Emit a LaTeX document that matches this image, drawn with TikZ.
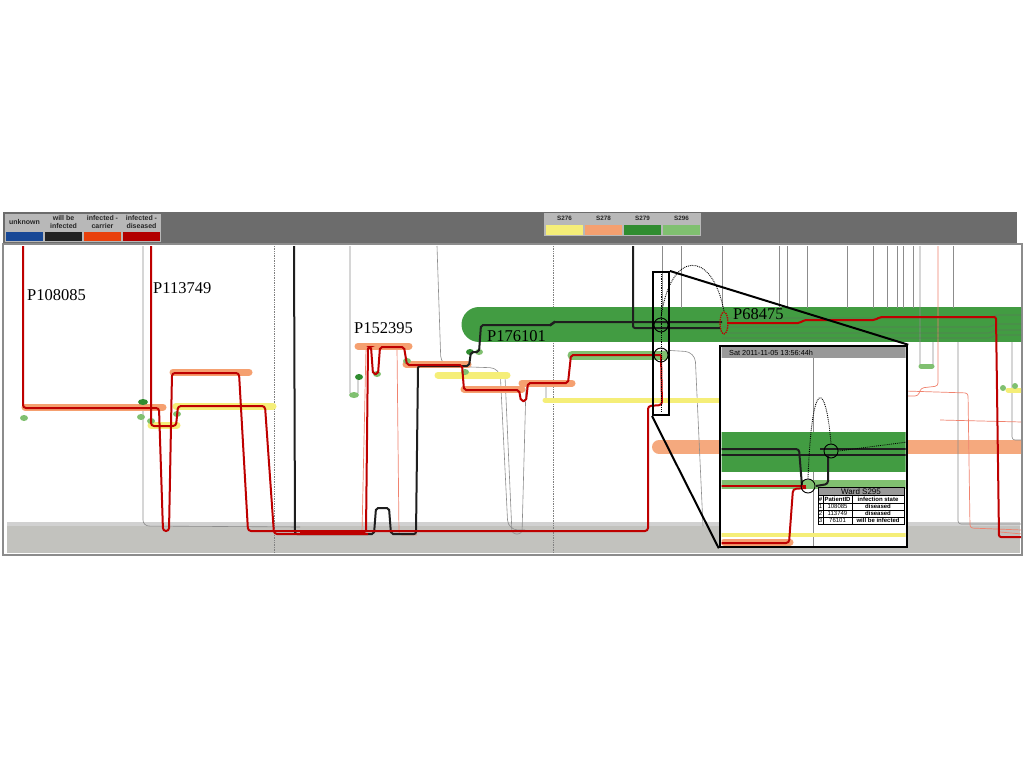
\documentclass[tikz,border=0pt]{standalone}
\usepackage{fontspec}
\setmainfont{Liberation Serif}
\newfontfamily\uifont{Liberation Sans}
\usetikzlibrary{calc,shapes.geometric}
\definecolor{barGray}{RGB}{108,108,108}
\definecolor{boxGray}{RGB}{184,184,184}
\definecolor{stUnknown}{RGB}{24,72,150}
\definecolor{stWill}{RGB}{34,34,34}
\definecolor{stCarrier}{RGB}{232,64,12}
\definecolor{stDiseased}{RGB}{178,0,0}
\definecolor{wYellow}{RGB}{245,238,120}
\definecolor{wSalmon}{RGB}{245,160,112}
\definecolor{wGreen}{RGB}{48,140,48}
\definecolor{wLight}{RGB}{128,192,112}
\definecolor{bandGreen}{RGB}{66,156,66}
\definecolor{floorGray}{RGB}{194,194,190}
\definecolor{pathRed}{RGB}{190,0,0}
\definecolor{pathBlack}{RGB}{30,30,30}
\definecolor{thinPink}{RGB}{240,130,110}
\tikzset{redpath/.style={draw=pathRed,line width=2pt,rounded corners=2pt},
         blackpath/.style={draw=pathBlack,line width=2pt,rounded corners=2pt},
         trace/.style={draw=black!45,line width=.6pt,rounded corners=6pt},
         pinktrace/.style={draw=thinPink,line width=.7pt,rounded corners=3pt},
         hilite/.style={line width=7pt,line cap=round},
         ring/.style={circle,draw,line width=.9pt,minimum size=14pt,inner sep=0pt},
         pid/.style={font=\fontsize{16.5}{18}\selectfont,inner sep=0pt},
         legendtxt/.style={font=\uifont\bfseries\fontsize{7}{8.5}\selectfont,align=center,inner sep=0pt,text=black!85},
         tabtxt/.style={font=\uifont\bfseries\fontsize{6}{6}\selectfont,inner sep=0pt},
         greendot/.style={fill=wLight}}

\begin{document}
\begin{tikzpicture}[x=1pt,y=-1pt]
  \useasboundingbox[fill=white] (0,0) rectangle (1024,768);
  % legend bar
  \fill[barGray] (3,212) rectangle (1017,243);
  \fill[boxGray] (5,214) rectangle (161,242);
  \foreach \txt/\col [count=\i from 0] in {unknown/stUnknown,{will be\\infected}/stWill,{infected -\\carrier}/stCarrier,{infected -\\diseased}/stDiseased}{
    \node[legendtxt] (state\i) at (6+39*\i+18.5,222) {\txt};
    \fill[\col] (6+39*\i,232) rectangle ++(37,9);
  }
  \fill[boxGray] (544,213) rectangle (701,236);
  \foreach \txt/\col [count=\i from 0] in {S276/wYellow,S278/wSalmon,S279/wGreen,S296/wLight}{
    \node[legendtxt,font=\uifont\bfseries\fontsize{6.3}{7}\selectfont] (ward\i) at (546+39*\i+18.5,218.5) {\txt};
    \fill[\col] (546+39*\i,225) rectangle ++(37,10);
  }
  % plot area
  \draw[black!45,line width=1.2pt,fill=white] (3,244) rectangle (1022,555);
  \begin{scope}
    \clip (4,245) rectangle (1021,554);
    \fill[floorGray] (7,524) rectangle (1020,553);
    \fill[black!18] (7,522) rectangle (1020,526);
    \foreach \x in {274,553}
      \draw[black!50,densely dotted,line width=.7pt] (\x,246) -- (\x,553);
    % ward bands
    \draw[bandGreen,line width=35pt,line cap=round] (479,324.5) -- (1060,324.5);
    \draw[wSalmon,line width=14pt,line cap=round,opacity=.9] (659,447) -- (1060,447);
    % thin traces
    \draw[trace] (143,246) -- (143,526) -- (300,527);
    \draw[trace,rounded corners=2pt] (350,246) -- (350,395) -- (358,395) -- (358,378);
    \draw[trace,rounded corners=10pt] (437,246) -- (441,366) -- (500,368) -- (508,530) -- (525,530);
    \draw[trace,rounded corners=4pt] (505,376) -- (512,534) -- (522,534) -- (526,385) -- (546,383) -- (546,400);
    \draw[trace,rounded corners=10pt] (662,350) -- (695,352) -- (703,526);
    \foreach \x in {662,681,722,779,787,807,847,873,887,897,903,913,953}
      \draw[trace] (\x,246) -- (\x,308);
    \draw[trace,rounded corners=2pt] (920,246) -- (920,366) -- (933,366) -- (933,342);
    \draw[trace,rounded corners=3pt] (958,342) -- (958,524) -- (1022,524);
    \draw[trace,rounded corners=3pt] (1012,342) -- (1012,440) -- (1022,440);
    \draw[pinktrace] (938,246) -- (938,386) -- (921,388) -- (918,396) -- (905,396);
    \draw[pinktrace] (905,391) -- (968,393) -- (970,528) -- (1022,530);
    \draw[pinktrace] (940,420) -- (1022,422);
    \draw[pinktrace] (1000,532) -- (1022,534);
    \draw[pinktrace] (362,533) -- (366,347);
    \draw[pinktrace] (397,347) -- (399,535) -- (417,535);
    \foreach \y in {318,327,333,338}
      \draw[black!60,line width=.6pt,opacity=.6,rounded corners=2pt] (722,\y) -- (990,\y) -- (996,\y-3) -- (1022,\y-3);
    % highlights
    \draw[wSalmon,hilite] (25,407) -- (163,407);
    \draw[wSalmon,hilite] (173,372) -- (249,372);
    \draw[wYellow,hilite] (176,406) -- (273,406);
    \draw[wYellow,hilite] (151,425) -- (177,425);
    \draw[wSalmon,hilite] (358,346) -- (409,346);
    \draw[wSalmon,hilite] (406,364) -- (468,364);
    \draw[wYellow,hilite] (438,375) -- (507,375);
    \draw[wSalmon,hilite] (464,389) -- (522,389);
    \draw[wSalmon,hilite] (522,383) -- (572,383);
    \draw[wLight,line width=9pt,line cap=round] (572,355) -- (665,355);
    \draw[wYellow,line width=5pt,line cap=round] (545,400) -- (720,400);
    \draw[wYellow,line width=5pt,line cap=round] (1008,390) -- (1022,390);
    \draw[wLight,line width=5pt,line cap=round] (921,366) -- (932,366);
    % state dots
    \fill[greendot] (24,418) ellipse[x radius=4pt,y radius=3pt];
    \fill[greendot] (141,417) ellipse[x radius=4pt,y radius=3pt];
    \fill[greendot] (151,421) ellipse[x radius=4pt,y radius=3pt];
    \fill[greendot] (177,414) ellipse[x radius=4pt,y radius=3pt];
    \fill[wGreen] (143,402) ellipse[x radius=5pt,y radius=3pt];
    \fill[greendot] (354,395) ellipse[x radius=5pt,y radius=3pt];
    \fill[wGreen] (359,377) ellipse[x radius=4pt,y radius=3pt];
    \fill[greendot] (377,374) ellipse[x radius=4pt,y radius=3pt];
    \fill[greendot] (407,361) ellipse[x radius=4pt,y radius=3pt];
    \fill[wGreen] (470,352) ellipse[x radius=4pt,y radius=3pt];
    \fill[greendot] (479,352) ellipse[x radius=4pt,y radius=3pt];
    \fill[greendot] (465,372) ellipse[x radius=4pt,y radius=3pt];
    \fill[greendot] (1003,388) ellipse[x radius=3pt,y radius=3pt];
    \fill[greendot] (1015,386) ellipse[x radius=3pt,y radius=3pt];
    % patient paths
    \draw[blackpath] (294,246) -- (295,534) -- (374,534) -- (376,508) -- (389,508) -- (391,534) -- (416,534)
      -- (418,366) -- (469,366) -- (471,352) -- (479,352) -- (481,325) -- (552,325) -- (553,322) -- (722,322);
    \draw[blackpath] (633,246) -- (633,328) -- (720,328);
    \draw[redpath,rounded corners=3pt] (23,246) -- (23,408) -- (159,408) -- (163,531) -- (169,531) -- (172,373) -- (239,373)
      -- (248,531) -- (648,531) -- (648,406) -- (662,405) -- (661,355);
    \draw[redpath,rounded corners=3pt] (151,246) -- (151,426) -- (176,426) -- (178,406) -- (265,406) -- (274,534) -- (368,534);
    \draw[redpath] (300,532) -- (366,532) -- (368,347) -- (371,347) -- (373,374) -- (378,374) -- (380,347)
      -- (404,347) -- (407,365) -- (462,365) -- (464,390) -- (519,390) -- (521,401) -- (526,401)
      -- (528,383) -- (568,383) -- (571,355) -- (661,355);
    \draw[redpath] (727,323) -- (800,323) -- (804,320) -- (875,320) -- (880,317) -- (996,317) -- (999,537) -- (1022,537);
  \end{scope}
  % labels
  \node[pid,anchor=base west] (p108085) at (27,300) {P108085};
  \node[pid,anchor=base west] (p113749) at (153,293) {P113749};
  \node[pid,anchor=base west] (p152395) at (354,333) {P152395};
  \node[pid,anchor=base west] (p176101) at (487,341) {P176101};
  \node[pid,anchor=base west] (p68475) at (733,319) {P68475};
  % lens
  \draw[black,densely dotted,line width=.8pt] (661,274) -- (661,412);
  \node[ring] (c1) at (661,325) {};
  \node[ring] (c2) at (661,355) {};
  \node[ellipse,draw=pathRed,densely dotted,line width=1.3pt,minimum width=8pt,minimum height=22pt,inner sep=0pt] (e1) at (724,323) {};
  \draw[densely dotted,line width=.9pt] (c1.north) .. controls (670,250) and (712,248) .. (e1.north);
  \node[draw,line width=2pt,minimum width=16pt,minimum height=143pt,inner sep=0pt] (src) at (661,343.5) {};
  \node[draw,line width=2.5pt,fill=white,minimum width=187pt,minimum height=201pt,inner sep=0pt] (inset) at (813.5,446.5) {};
  \draw[line width=2pt] (src.north east) -- (inset.north east);
  \draw[line width=2pt] (src.south west) -- (inset.south west);
  \begin{scope}
    \clip (721.5,347.5) rectangle (905.5,545.5);
    \fill[black!40] (720,346) rectangle (907,358);
    \node[tabtxt,font=\uifont\fontsize{7.3}{7.3}\selectfont,anchor=west] (stamp) at (729,352.5) {Sat 2011-11-05 13:56:44h};
    \draw[trace] (813,358) -- (813,547);
    \fill[bandGreen] (720,432) rectangle (907,472);
    \draw[wLight,line width=9pt] (720,484) -- (907,484);
    \draw[wYellow,line width=4pt] (720,535) -- (907,535);
    \draw[wSalmon,hilite] (724,542) -- (790,542);
    \draw[blackpath,rounded corners=3pt] (720,449) -- (799,449) -- (802,486);
    \draw[blackpath] (720,455) -- (907,455);
    \draw[blackpath] (820,449) -- (907,449);
    \draw[blackpath,rounded corners=3pt] (828,456) -- (828,484) -- (816,486);
    \draw[redpath] (720,486) -- (806,486);
    \draw[redpath,rounded corners=3pt] (720,543) -- (789,543) -- (793,489) -- (806,488);
    \node[ring] (c3) at (808,486) {};
    \node[ring] (c4) at (831,451) {};
    \draw[densely dotted,line width=.9pt] (c3.north) .. controls (812,372) and (826,382) .. (c4.north);
    \draw[densely dotted,line width=.9pt] (c4.east) -- (907,442);
    % ward table
    \fill[white] (818,487) rectangle (904,524);
    \fill[black!40] (818,487) rectangle (904,495);
    \node[tabtxt,font=\uifont\fontsize{8}{8}\selectfont] (ward) at (861,491.5) {Ward S295};
    \draw[line width=.7pt] (818,487) rectangle (904,524);
    \foreach \y in {495,503,510,517}
      \draw[line width=.5pt] (818,\y) -- (904,\y);
    \foreach \x in {823,852}
      \draw[line width=.5pt] (\x,495) -- (\x,524);
    \node[tabtxt] (hnum) at (820.5,499.5) {\#};
    \node[tabtxt] (hid) at (837.5,499.5) {PatientID};
    \node[tabtxt] (hstate) at (878,499.5) {infection state};
    \foreach \n/\pat/\st [count=\r from 0] in {1/108085/diseased,2/113749/diseased,3/76101/will be infected}{
      \node[tabtxt,font=\uifont\fontsize{6}{6}\selectfont] (rn\r) at (820.5,506.8+7*\r) {\n};
      \node[tabtxt,font=\uifont\fontsize{6}{6}\selectfont] (rp\r) at (837.5,506.8+7*\r) {\pat};
      \node[tabtxt] (rs\r) at (878,506.8+7*\r) {\st};
    }
  \end{scope}
\end{tikzpicture}
\end{document}
